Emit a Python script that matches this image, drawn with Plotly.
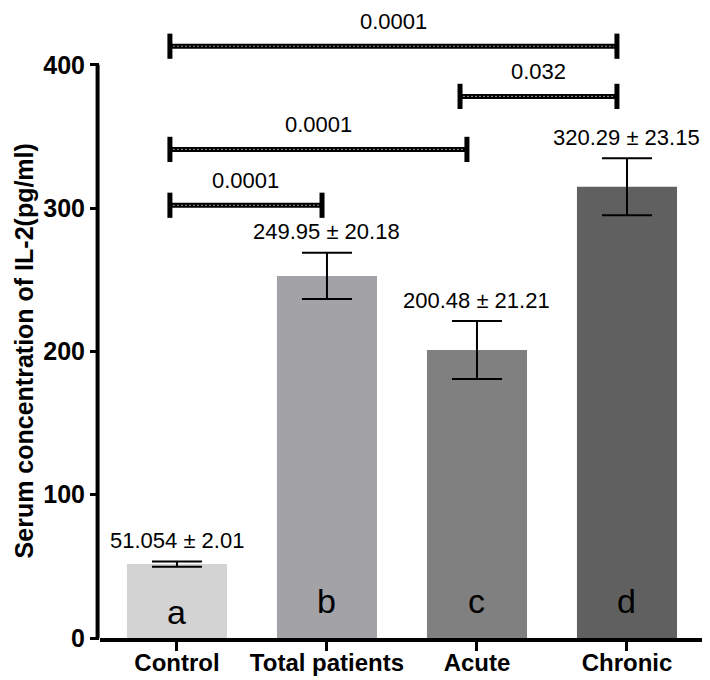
import plotly.graph_objects as go

categories = ["Control", "Total patients", "Acute", "Chronic"]
means = [51.6, 252.7, 201.0, 315.0]
errors = [1.8, 16.1, 20.2, 19.9]
value_labels = ["51.054 ± 2.01", "249.95 ± 20.18", "200.48 ± 21.21", "320.29 ± 23.15"]
letters = ["a", "b", "c", "d"]
letter_y = [18, 26, 26, 26]
colors = ["#d3d3d3", "#a3a2a6", "#808080", "#606060"]
y_ticks = [0, 100, 200, 300, 400]
y_title = "Serum concentration of IL-2(pg/ml)"

# significance brackets: start/end positions (category index units), height, p-value
br_start = [-0.047, 1.887, -0.047, -0.047]
br_end = [2.933, 2.933, 1.933, 0.967]
br_y = [413, 378, 341, 302]
br_text = ["0.0001", "0.032", "0.0001", "0.0001"]

FONT = "Liberation Sans, Arial, sans-serif"
x = list(range(len(categories)))

fig = go.Figure()
fig.add_trace(go.Bar(
    x=x, y=means, width=0.667, marker=dict(color=colors, line=dict(width=0)),
    error_y=dict(type="data", array=errors, visible=True, color="black",
                 thickness=2, width=25),
    showlegend=False, hoverinfo="skip",
))

for xs, xe, yy, t in zip(br_start, br_end, br_y, br_text):
    fig.add_trace(go.Scatter(
        x=[xs, xe], y=[yy, yy], mode="lines+markers",
        line=dict(color="black", width=5),
        marker=dict(symbol="line-ns-open", size=18, line=dict(width=5, color="black")),
        cliponaxis=False, showlegend=False, hoverinfo="skip"))
    fig.add_trace(go.Scatter(
        x=[xs + 0.02, xe - 0.02], y=[yy, yy], mode="lines",
        line=dict(color="#9a9a9a", width=1, dash="2px,2px"),
        cliponaxis=False, showlegend=False, hoverinfo="skip"))
    fig.add_annotation(x=(xs + xe) / 2, y=yy, text=t, showarrow=False,
                       yshift=25, font=dict(family=FONT, size=22, color="black"))

for i in x:
    fig.add_annotation(x=i, y=means[i] + errors[i], text=value_labels[i], showarrow=False,
                       yshift=21, font=dict(family=FONT, size=22, color="black"))
    fig.add_annotation(x=i, y=letter_y[i], text=letters[i], showarrow=False,
                       font=dict(family=FONT, size=34, color="black"))

# y axis title, centred on the drawn axis (0-400)
fig.add_annotation(xref="paper", x=0, xanchor="center", xshift=-76,
                   yref="y", y=(y_ticks[0] + y_ticks[-1]) / 2, yanchor="middle",
                   text=y_title, textangle=-90, showarrow=False,
                   font=dict(family=FONT, size=25, color="black", weight="bold"))

# y axis line only up to the last tick (400)
fig.add_shape(type="line", xref="paper", yref="y", x0=-0.004, x1=-0.004,
              y0=y_ticks[0], y1=y_ticks[-1], line=dict(color="black", width=4), layer="above")

fig.update_layout(
    width=702, height=672,
    margin=dict(l=92, r=5, t=11, b=42),
    plot_bgcolor="white", paper_bgcolor="white",
    font=dict(family=FONT, color="black"),
)
fig.update_xaxes(
    range=[-0.513, 3.52], tickmode="array", tickvals=x, ticktext=categories,
    showline=True, linecolor="black", linewidth=4,
    ticks="outside", ticklen=9, tickwidth=3, tickcolor="black",
    ticklabelstandoff=-9,
    tickfont=dict(family=FONT, size=24, color="black", weight="bold"),
    showgrid=False, zeroline=False, automargin=False,
)
fig.update_yaxes(
    range=[0, 432], tickvals=y_ticks,
    showline=False,
    ticks="outside", ticklen=9, tickwidth=3, tickcolor="black",
    tickfont=dict(family=FONT, size=25, color="black", weight="bold"),
    showgrid=False, zeroline=False, automargin=False,
)

fig.write_html("out.html")
